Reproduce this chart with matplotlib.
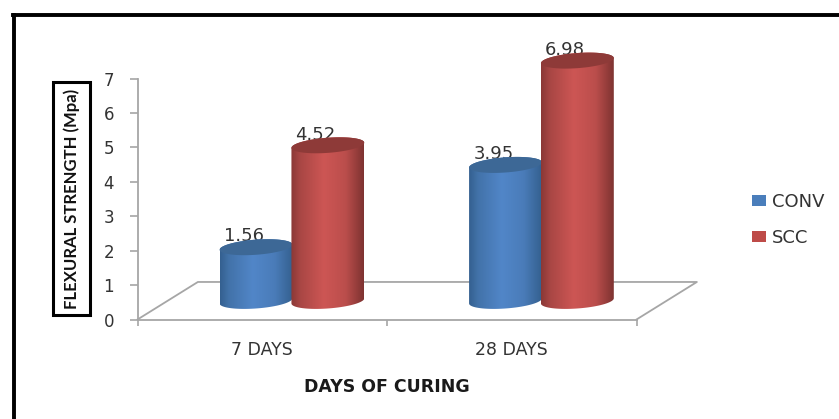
import numpy as np
import matplotlib
matplotlib.use('Agg')
from matplotlib import pyplot as plt
from matplotlib.colors import LinearSegmentedColormap
from matplotlib.lines import Line2D
from matplotlib.patches import Patch, PathPatch, Rectangle
from matplotlib.path import Path

categories = ['7 DAYS', '28 DAYS']
series_names = ['CONV', 'SCC']
conv_values = [1.56, 3.95]
scc_values = [4.52, 6.98]
y_ticks = [0, 1, 2, 3, 4, 5, 6, 7]

W, H = 839, 419
GREY = '#a6a6a6'
TEXT = '#333333'

# floor depth and cylinder shape, in axis units
FLOOR_DX, FLOOR_DY = 0.242, 1.09
BASE_Y = 0.54
BAR_W = 0.292
ELL_H = 0.22
TILT = 0.075


def body_path(x0, x1, y0, y1):
    """Side of a cylinder: top edge is the front of the upper ellipse."""
    cx, a = (x0 + x1) / 2, (x1 - x0) / 2
    t = np.linspace(np.pi, 2 * np.pi, 40)
    low = np.c_[cx + a * np.cos(t), y0 + ELL_H * np.sin(t) + TILT * np.cos(t)]
    t = np.linspace(0, np.pi, 40)
    up = np.c_[cx + a * np.cos(t), y1 + ELL_H * np.sin(t) + TILT * np.cos(t)]
    return Path(np.vstack([low, up, low[:1]]))


def top_path(x0, x1, y1):
    cx, a = (x0 + x1) / 2, (x1 - x0) / 2
    t = np.linspace(0, 2 * np.pi, 80)
    return Path(np.c_[cx + a * np.cos(t), y1 + ELL_H * np.sin(t) + TILT * np.cos(t)])


def draw_cylinder(ax, x0, value, cmap, top_color, zorder):
    x1 = x0 + BAR_W
    y0, y1 = BASE_Y, BASE_Y + value
    grad = np.linspace(0, 1, 256).reshape(1, -1)
    im = ax.imshow(grad, cmap=cmap, extent=(x0, x1, y0 - 0.4, y1 + 0.4),
                   aspect='auto', zorder=zorder, interpolation='bilinear')
    clip = PathPatch(body_path(x0, x1, y0, y1), transform=ax.transData, fc='none', ec='none')
    ax.add_patch(clip)
    im.set_clip_path(clip)
    # the tallest cylinder rises past the 7 tick
    im.set_clip_box(ax.figure.bbox)
    ax.add_patch(PathPatch(top_path(x0, x1, y1), fc=top_color, ec='none', zorder=zorder + 0.1, clip_on=False))


fig = plt.figure(figsize=(W / 100, H / 100), dpi=100)
ax = fig.add_axes([137.5 / W, 1 - 319.5 / H, 499 / W, 241 / H])

blue_map = LinearSegmentedColormap.from_list('blue', [(0, '#34608f'), (0.12, '#4272a9'), (0.45, '#5186c8'), (0.75, '#4a7cb9'), (1, '#34608f')])
red_map = LinearSegmentedColormap.from_list('red', [(0, '#8a3836'), (0.12, '#a84644'), (0.45, '#cd5654'), (0.75, '#bb4e4c'), (1, '#7e3331')])

# floor outline behind the cylinders
ax.plot([0, FLOOR_DX, 2 + FLOOR_DX, 2], [0, FLOOR_DY, FLOOR_DY, 0], color=GREY, lw=1.3, clip_on=False, zorder=1)

for i in range(len(categories)):
    draw_cylinder(ax, i + 0.329, conv_values[i], blue_map, '#3d6896', 3)
    draw_cylinder(ax, i + 0.617, scc_values[i], red_map, '#8e3a38', 4)
    # value labels sit partly behind the cylinder tops
    ax.annotate(f'{conv_values[i]:.2f}', (i + 0.329 + BAR_W / 2, BASE_Y + conv_values[i]),
                xytext=(-8.5, 8), textcoords='offset points', ha='center', va='center',
                fontsize=13, color=TEXT, zorder=2, annotation_clip=False)
    ax.annotate(f'{scc_values[i]:.2f}', (i + 0.617 + BAR_W / 2, BASE_Y + scc_values[i]),
                xytext=(-9, 7.5), textcoords='offset points', ha='center', va='center',
                fontsize=13, color=TEXT, zorder=2, annotation_clip=False)

ax.set_xlim(0, 2)
ax.set_ylim(0, 7)
ax.patch.set_alpha(0)
for s in ['top', 'right']:
    ax.spines[s].set_visible(False)
for s in ['left', 'bottom']:
    ax.spines[s].set_color(GREY)
    ax.spines[s].set_linewidth(1.3)

ax.set_yticks(y_ticks)
ax.tick_params(axis='y', length=6, width=1.2, color=GREY, labelcolor=TEXT, pad=11, labelsize=12)
ax.set_xticks([0, 1, 2])
ax.set_xticklabels([])
ax.tick_params(axis='x', length=4, width=1.2, color=GREY)
for i, c in enumerate(categories):
    ax.annotate(c, (i + 0.5, 0), xytext=(0, -30), textcoords='offset pixels', ha='center', va='center',
                fontsize=12.5, color=TEXT, annotation_clip=False)

# axis titles
fig.text(387 / W, 1 - 387 / H, 'DAYS OF CURING', ha='center', va='center',
         fontsize=12.5, fontweight='bold', color='#1a1a1a')
fig.add_artist(Rectangle((53 / W, 1 - 315 / H), 37 / W, 233 / H, transform=fig.transFigure,
                         fc='white', ec='black', lw=2.2))
fig.text(71.5 / W, 1 - 199 / H, 'FLEXURAL STRENGTH (Mpa)', rotation=90, ha='center', va='center',
         fontsize=12, fontweight='bold', family='Lato', color='#111111')

handles = [Patch(fc='#4a7ebb', label=series_names[0]), Patch(fc='#be4b48', label=series_names[1])]
fig.legend(handles=handles, loc='center left', bbox_to_anchor=(751.5 / W, 1 - 220 / H), frameon=False,
           prop={'size': 13}, labelcolor=TEXT,
           handlelength=0.78, handleheight=0.6, handletextpad=0.35, labelspacing=1.0, borderpad=0, borderaxespad=0)

# heavy frame round the chart, running off the right and bottom
fig.add_artist(Line2D([13.5 / W, 13.5 / W], [0, 1 - 15 / H], color='black', lw=2.8, transform=fig.transFigure))
fig.add_artist(Line2D([12.5 / W, 1], [1 - 15 / H, 1 - 15 / H], color='black', lw=2.8, transform=fig.transFigure))

fig.savefig('out.png', dpi=100)
